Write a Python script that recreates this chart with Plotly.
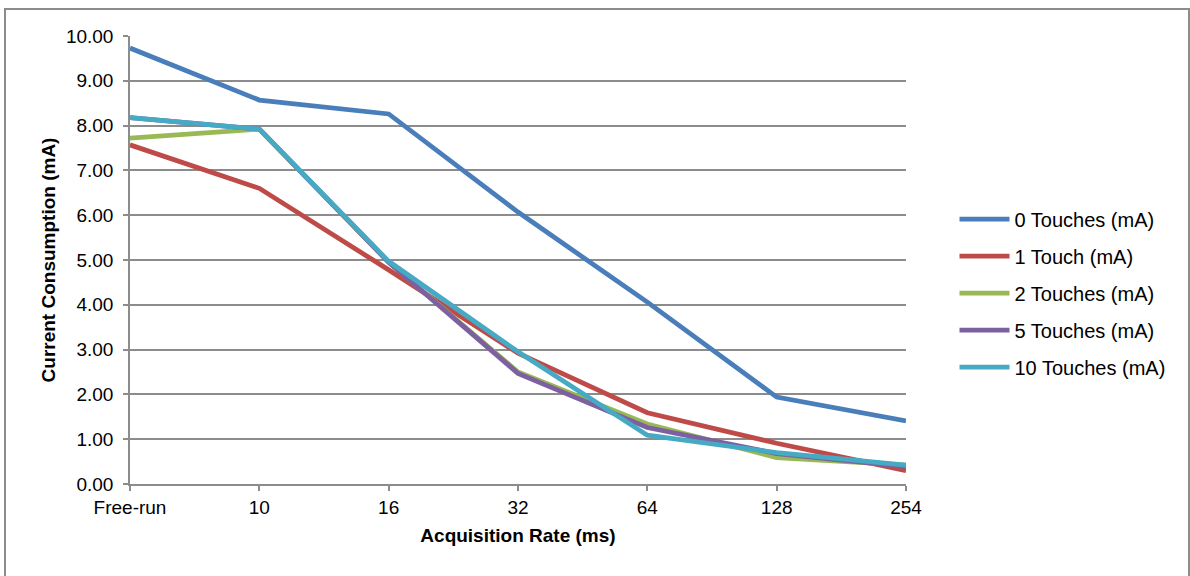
import plotly.graph_objects as go

categories = ["Free-run", "10", "16", "32", "64", "128", "254"]
touches0 = [9.73, 8.57, 8.26, 6.07, 4.06, 1.94, 1.41]
touches1 = [7.57, 6.60, 4.78, 2.92, 1.59, 0.91, 0.30]
touches2 = [7.72, 7.92, 4.95, 2.50, 1.34, 0.59, 0.42]
touches5 = [8.18, 7.92, 4.95, 2.47, 1.26, 0.68, 0.39]
touches10 = [8.18, 7.92, 4.97, 2.95, 1.09, 0.70, 0.42]
y_ticks = [0, 1, 2, 3, 4, 5, 6, 7, 8, 9, 10]

series = [
    ("0 Touches (mA)", touches0, "#4A7EBB"),
    ("1 Touch (mA)", touches1, "#BE4B48"),
    ("2 Touches (mA)", touches2, "#98B954"),
    ("5 Touches (mA)", touches5, "#7D60A0"),
    ("10 Touches (mA)", touches10, "#46AAC5"),
]

FONT = "Liberation Sans, Arial, sans-serif"
xpos = list(range(len(categories)))

fig = go.Figure()
for i, (name, vals, color) in enumerate(series):
    fig.add_trace(go.Scatter(
        x=xpos, y=vals, name=name, mode="lines",
        line=dict(color=color, width=4.8),
        legendgroup=f"g{i}",
    ))

fig.update_layout(
    width=1190, height=576,
    margin=dict(l=130, r=284, t=36, b=92),
    paper_bgcolor="white", plot_bgcolor="white",
    font=dict(family=FONT, size=19, color="black"),
    showlegend=True,
    legend=dict(
        x=1.0625, y=0.426, xanchor="left", yanchor="middle",
        font=dict(size=20, family=FONT),
        tracegroupgap=8, itemwidth=50,
        bgcolor="rgba(0,0,0,0)",
    ),
    xaxis=dict(
        range=[0, len(categories) - 1],
        tickmode="array", tickvals=xpos, ticktext=categories,
        showgrid=False, zeroline=False,
        showline=True, linecolor="#8c8c8c", linewidth=1.5,
        ticks="outside", ticklen=5, tickcolor="#8c8c8c", tickwidth=1.5,
        tickfont=dict(size=19),
        title=dict(text="<b>Acquisition Rate (ms)</b>", standoff=12, font=dict(size=19)),
    ),
    yaxis=dict(
        range=[0, 10],
        tickmode="array", tickvals=y_ticks, tickformat=".2f",
        showgrid=True, gridcolor="#8c8c8c", gridwidth=1.5,
        zeroline=False,
        showline=True, linecolor="#8c8c8c", linewidth=1.5,
        ticks="outside", ticklen=5, tickcolor="#8c8c8c", tickwidth=1.5,
        tickfont=dict(size=19),
        ticklabelstandoff=6,
        title=dict(text="<b>Current Consumption (mA)</b>", standoff=5, font=dict(size=19)),
    ),
)

# outer chart border
fig.add_shape(
    type="rect", xref="paper", yref="paper",
    x0=(5 - 130) / 776, x1=(1189 - 130) / 776,
    y0=(484 - 590) / 448, y1=(484 - 9) / 448,
    line=dict(color="#8c8c8c", width=2), fillcolor="rgba(0,0,0,0)",
    layer="below",
)

fig.write_html(
    "out.html",
    config={"displayModeBar": False},
    post_script="document.body.style.margin='0';",
)
